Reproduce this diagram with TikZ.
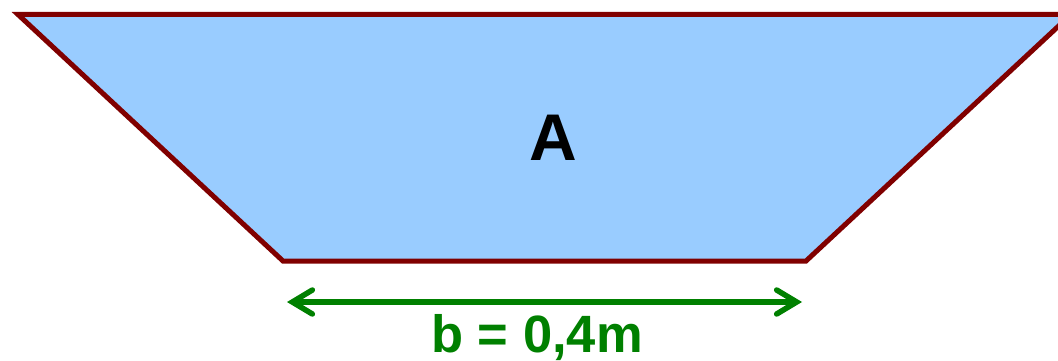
\documentclass[tikz,border=0pt]{standalone}
\usepackage{fontspec}
\setmainfont{Liberation Sans}
\usetikzlibrary{arrows.meta}
\definecolor{water}{HTML}{99CCFF}
\definecolor{bank}{HTML}{800000}
\definecolor{dimgreen}{HTML}{008000}
\tikzset{
  channel/.style={fill=water, draw=bank, line width=5pt, line join=miter},
  dimline/.style={draw=dimgreen, line width=5.5pt, {Straight Barb[length=20pt,width=24pt,line cap=round]}-{Straight Barb[length=20pt,width=24pt,line cap=round]}},
  dimlabel/.style={text=dimgreen, font=\bfseries\fontsize{52.5}{52.5}\selectfont, inner sep=0pt},
  arealabel/.style={text=black, font=\bfseries\fontsize{66}{66}\selectfont, inner sep=0pt}
}
\begin{document}
\begin{tikzpicture}[x=1pt,y=-1pt]
\useasboundingbox (0,0) rectangle (1058,361);
\clip (0,0) rectangle (1058,361);
\coordinate (tl) at (18,14.5);
\coordinate (tr) at (1071,14.5);
\coordinate (br) at (806,261);
\coordinate (bl) at (283,261);
\draw[channel] (tl) -- (tr) -- (br) -- (bl) -- cycle;
\node[arealabel] (A) at (553,138) {A};
\coordinate (al) at (287,302);
\coordinate (ar) at (802,302);
\draw[dimline] (al) -- (ar);
\node[dimlabel, anchor=base] (b) at (537,352) {b = 0,4m};
\end{tikzpicture}
\end{document}
